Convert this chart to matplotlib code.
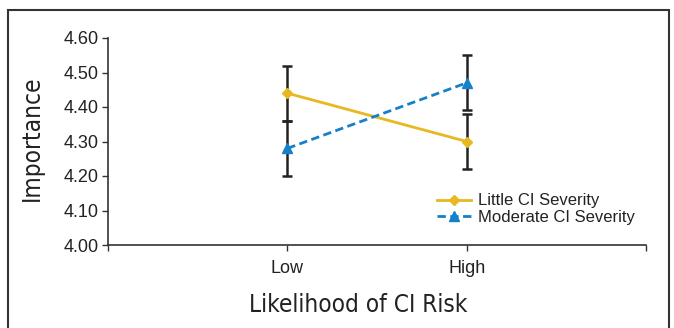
import matplotlib
matplotlib.use("Agg")
import matplotlib.pyplot as plt
from matplotlib.patches import Rectangle

categories = ["Low", "High"]
little = [4.44, 4.30]
little_err = [0.08, 0.08]
moderate = [4.28, 4.47]
moderate_err = [0.08, 0.08]
yticks = [4.00, 4.10, 4.20, 4.30, 4.40, 4.50, 4.60]

plt.rcParams['font.family'] = ['Liberation Sans', 'DejaVu Sans']

fig = plt.figure(figsize=(6.74, 3.28), dpi=100)
ax = fig.add_axes([108/674, 1-245/328, (646-108)/674, (245-38)/328])

x = [1, 2]
yellow = "#E8B820"
blue = "#1680C8"
ax.errorbar(x, little, yerr=little_err, fmt='none', ecolor="#222222", elinewidth=1.8, capsize=3.5, capthick=1.8, zorder=2)
ax.errorbar(x, moderate, yerr=moderate_err, fmt='none', ecolor="#222222", elinewidth=1.8, capsize=3.5, capthick=1.8, zorder=2)
ax.plot(x, little, color=yellow, lw=2, marker='D', ms=5.5, label="Little CI Severity", zorder=3)
ax.plot(x, moderate, color=blue, lw=2, ls=(0, (3, 1.6)), marker='^', ms=7.5, label="Moderate CI Severity", zorder=3)

ax.set_xlim(0, 3)
ax.set_ylim(4.0, 4.6)
ax.set_xticks([0, 1, 2, 3])
ax.set_xticklabels(["", categories[0], categories[1], ""], fontsize=13)
ax.set_yticks(yticks)
ax.set_yticklabels([f"{v:.2f}" for v in yticks], fontsize=13)
ax.tick_params(axis='both', direction='out', length=4, width=1, color="#333333", pad=3, labelcolor="#222222")
ax.tick_params(axis='x', pad=7)
for s in ['top', 'right']:
    ax.spines[s].set_visible(False)
for s in ['left', 'bottom']:
    ax.spines[s].set_color("#333333")
    ax.spines[s].set_linewidth(1.2)

cond = {'family': 'DejaVu Sans', 'stretch': 'condensed', 'size': 17.5, 'color': '#222222'}
ax.set_xlabel("Likelihood of CI Risk", fontdict=cond)
ax.set_ylabel("Importance", fontdict=cond)
ax.xaxis.set_label_coords(0.465, -0.232)
ax.yaxis.set_label_coords(-0.119, 0.517)

leg = ax.legend(loc='upper left', bbox_to_anchor=((429-108)/538, (245-185)/207), frameon=False,
                prop={'family': ['Liberation Sans', 'DejaVu Sans'], 'size': 12},
                handlelength=2.0, handletextpad=0.45, labelspacing=0.1, borderpad=0)
for t in leg.get_texts():
    t.set_color("#222222")

fig.patches.append(Rectangle((8/674, -0.1), (669-8)/674, 1.1 - 10/328, transform=fig.transFigure,
                             fill=False, edgecolor="#333333", lw=1.5))

fig.savefig("out.png", dpi=100)
